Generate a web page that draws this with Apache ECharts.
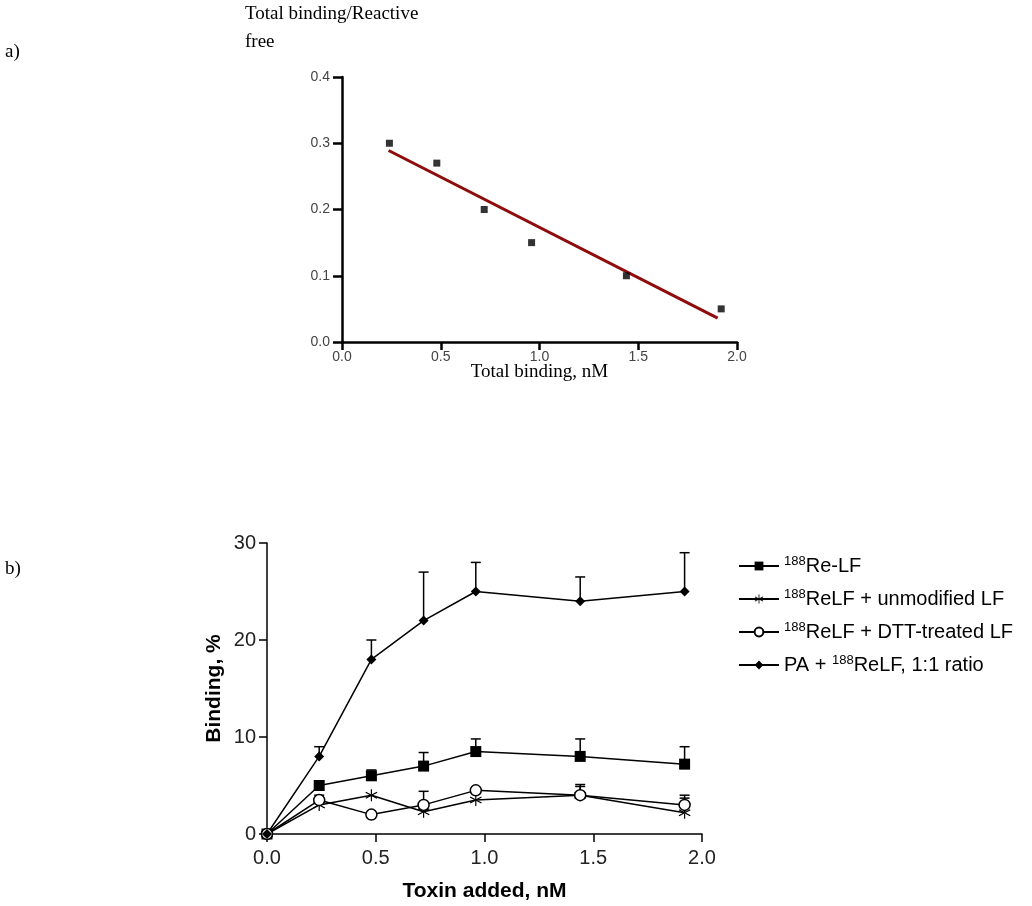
<!DOCTYPE html>
<html>
<head>
<meta charset="utf-8">
<script src="https://cdn.jsdelivr.net/npm/echarts@6/dist/echarts.min.js"></script>
<style>
  html, body { margin: 0; padding: 0; background: #fff; }
  #chart { width: 1032px; height: 906px; }
</style>
</head>
<body>
<div id="chart"></div>
<script>
// panel a) Scatchard-type plot
const scatX = [0.24, 0.48, 0.72, 0.96, 1.44, 1.92]
const scatY = [0.30, 0.27, 0.20, 0.15, 0.10, 0.05]
const fitX = [0.236, 1.902]
const fitY = [0.289, 0.036]

// panel b) binding vs toxin added
const toxin = [0, 0.24, 0.48, 0.72, 0.96, 1.44, 1.92]
const reLF = [0, 5, 6, 7, 8.5, 8, 7.2]
const reLFErr = [null, null, 6.6, 8.4, 9.8, 9.8, 9.0]
const unmod = [0, 3, 4, 2.3, 3.5, 4, 2.2]
const unmodErr = [null, null, null, null, null, 4.9, 3.7]
const dtt = [0, 3.5, 2, 3, 4.5, 4, 3]
const dttErr = [null, 4.0, null, 4.4, null, 5.1, 4.0]
const paReLF = [0, 8, 18, 22, 25, 24, 25]
const paReLFErr = [null, 9, 20, 27, 28, 26.5, 29]

const names = ['188Re-LF', '188ReLF + unmodified LF', '188ReLF + DTT-treated LF', 'PA + 188ReLF, 1:1 ratio']
const legendText = {
  '188Re-LF': '{sup|188}{t|Re-LF}',
  '188ReLF + unmodified LF': '{sup|188}{t|ReLF + unmodified LF}',
  '188ReLF + DTT-treated LF': '{sup|188}{t|ReLF + DTT-treated LF}',
  'PA + 188ReLF, 1:1 ratio': '{t|PA + }{sup|188}{t|ReLF, 1:1 ratio}',
}

// six-armed asterisk built from three thin bars
const asterisk = 'path://M-0.9,-10L0.9,-10L0.9,10L-0.9,10Z' +
  'M8.16,5.87L9.16,4.13L-8.16,-5.87L-9.16,-4.13Z' +
  'M9.16,-4.13L8.16,-5.87L-9.16,4.13L-8.16,5.87Z'

const sans = '"Liberation Sans", Arial, sans-serif'
const serif = '"Liberation Serif", "Times New Roman", serif'

function pairs(xs, ys) { return xs.map((x, i) => [x, ys[i]]) }
function errPairs(ys, tops) {
  return toxin.map((x, i) => [x, ys[i], tops[i]]).filter(d => d[2] != null)
}

function errSeries(name, ys, tops) {
  return {
    name: name + ' err',
    type: 'custom',
    xAxisIndex: 1,
    yAxisIndex: 1,
    z: 1,
    silent: true,
    data: errPairs(ys, tops),
    renderItem: (params, api) => {
      const p0 = api.coord([api.value(0), api.value(1)])
      const p1 = api.coord([api.value(0), api.value(2)])
      const s = { stroke: '#000', lineWidth: 1.5 }
      return {
        type: 'group',
        children: [
          { type: 'line', shape: { x1: p0[0], y1: p0[1], x2: p1[0], y2: p1[1] }, style: s },
          { type: 'line', shape: { x1: p1[0] - 5, y1: p1[1], x2: p1[0] + 5, y2: p1[1] }, style: s },
        ],
      }
    },
  }
}

function lineSeries(name, ys, symbol, size, fill, border) {
  return {
    name,
    type: 'line',
    xAxisIndex: 1,
    yAxisIndex: 1,
    z: 3,
    data: pairs(toxin, ys),
    symbol,
    symbolSize: size,
    showAllSymbol: true,
    lineStyle: { color: '#000', width: 1.5 },
    itemStyle: { color: fill, borderColor: '#000', borderWidth: border },
  }
}

const chart = echarts.init(document.getElementById('chart'))

chart.setOption({
  animation: false,
  backgroundColor: '#fff',
  title: [
    { text: 'a)', left: 5, top: 43, padding: 0, textStyle: { fontFamily: serif, fontWeight: 'normal', fontSize: 19, color: '#000' } },
    { text: 'b)', left: 5, top: 560, padding: 0, textStyle: { fontFamily: serif, fontWeight: 'normal', fontSize: 19, color: '#000' } },
    {
      text: 'Total binding/Reactive\nfree', left: 245, top: 0, padding: 0,
      textStyle: { fontFamily: serif, fontWeight: 'normal', fontSize: 19, color: '#000', lineHeight: 28 },
    },
  ],
  legend: {
    data: names,
    orient: 'vertical',
    left: 733,
    top: 550,
    itemWidth: 40,
    itemHeight: 11,
    itemGap: 12,
    formatter: n => legendText[n],
    textStyle: {
      color: '#000',
      fontFamily: sans,
      rich: {
        sup: { fontSize: 13, fontFamily: sans, color: '#000', verticalAlign: 'top', padding: [0, 0, 9, 0] },
        t: { fontSize: 20, fontFamily: sans, color: '#000' },
      },
    },
  },
  grid: [
    { left: 342, width: 395, top: 77, height: 265 },
    { left: 267, width: 435, top: 543, height: 291 },
  ],
  xAxis: [
    {
      gridIndex: 0, type: 'value', min: 0, max: 2, interval: 0.5,
      name: 'Total binding, nM', nameLocation: 'middle', nameGap: 21, nameMoveOverlap: false,
      nameTextStyle: { fontFamily: serif, fontSize: 19, color: '#000', verticalAlign: 'top' },
      axisLine: { onZero: false, lineStyle: { color: '#000', width: 2.5 } },
      axisTick: { length: 8, lineStyle: { color: '#000', width: 2.5 } },
      axisLabel: { margin: 8, fontFamily: sans, fontSize: 14, color: '#444', formatter: v => v.toFixed(1) },
      splitLine: { show: false },
    },
    {
      gridIndex: 1, type: 'value', min: 0, max: 2, interval: 0.5,
      name: 'Toxin added, nM', nameLocation: 'middle', nameGap: 47,
      nameTextStyle: { fontFamily: sans, fontWeight: 'bold', fontSize: 21, color: '#000' },
      axisLine: { onZero: false, lineStyle: { color: '#000', width: 1.5 } },
      axisTick: { length: 8, lineStyle: { color: '#000', width: 1.5 } },
      axisLabel: { margin: 14, fontFamily: sans, fontSize: 20, color: '#222', formatter: v => v.toFixed(1) },
      splitLine: { show: false },
    },
  ],
  yAxis: [
    {
      gridIndex: 0, type: 'value', min: 0, max: 0.4, interval: 0.1,
      axisLine: { show: true, onZero: false, lineStyle: { color: '#000', width: 2.5 } },
      axisTick: { show: true, length: 9, lineStyle: { color: '#000', width: 2.5 } },
      axisLabel: { margin: 12, fontFamily: sans, fontSize: 14, color: '#444', formatter: v => v.toFixed(1) },
      splitLine: { show: false },
    },
    {
      gridIndex: 1, type: 'value', min: 0, max: 30, interval: 10,
      name: 'Binding, %', nameLocation: 'middle', nameGap: 42,
      nameTextStyle: { fontFamily: sans, fontWeight: 'bold', fontSize: 21, color: '#000' },
      axisLine: { show: true, onZero: false, lineStyle: { color: '#000', width: 1.5 } },
      axisTick: { show: true, length: 8, lineStyle: { color: '#000', width: 1.5 } },
      axisLabel: { margin: 11, fontFamily: sans, fontSize: 20, color: '#222' },
      splitLine: { show: false },
    },
  ],
  series: [
    {
      name: 'scatter', type: 'scatter', xAxisIndex: 0, yAxisIndex: 0,
      data: pairs(scatX, scatY), symbol: 'rect', symbolSize: 7,
      itemStyle: { color: '#000' }, z: 3,
    },
    {
      name: 'fit', type: 'line', xAxisIndex: 0, yAxisIndex: 0,
      data: pairs(fitX, fitY), symbol: 'none',
      lineStyle: { color: '#8e0c0c', width: 3 }, z: 2,
    },
    errSeries(names[0], reLF, reLFErr),
    errSeries(names[1], unmod, unmodErr),
    errSeries(names[2], dtt, dttErr),
    errSeries(names[3], paReLF, paReLFErr),
    lineSeries(names[0], reLF, 'rect', 11, '#000', 0),
    lineSeries(names[1], unmod, asterisk, 12, '#000', 0),
    lineSeries(names[2], dtt, 'circle', 11, '#fff', 1.5),
    lineSeries(names[3], paReLF, 'diamond', 10, '#000', 0),
  ],
})
</script>
</body>
</html>
